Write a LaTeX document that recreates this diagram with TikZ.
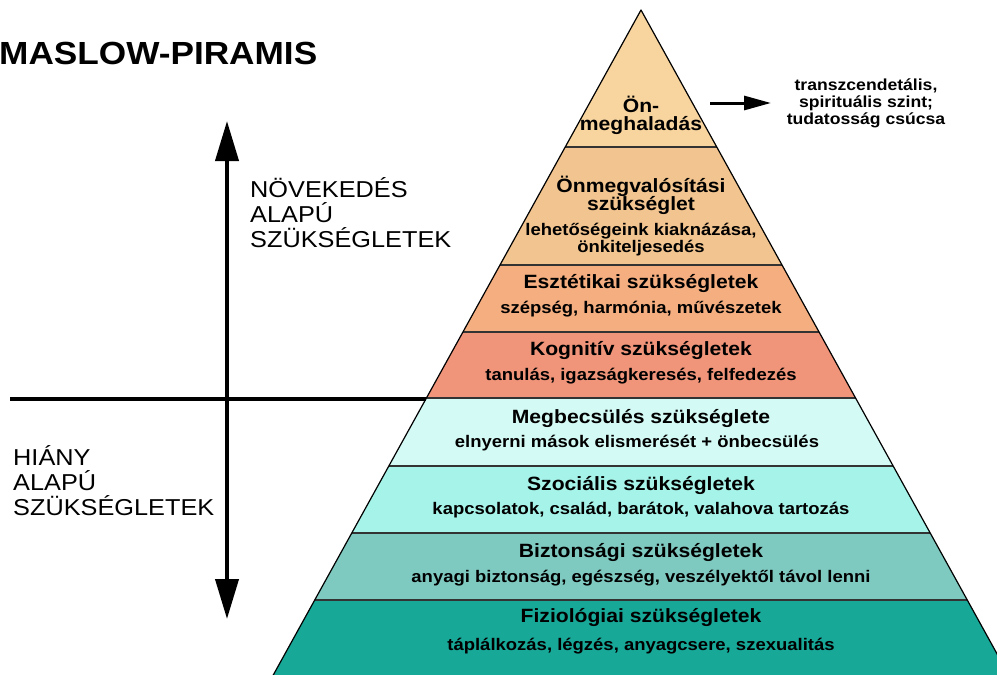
\documentclass[tikz,border=0pt]{standalone}
\usepackage{fontspec}
\setmainfont{Liberation Sans}[FakeStretch=1.1]
\usetikzlibrary{arrows.meta}
\definecolor{cA}{HTML}{F8D49E}
\definecolor{cB}{HTML}{F2C48F}
\definecolor{cC}{HTML}{F4AE80}
\definecolor{cD}{HTML}{F0947A}
\definecolor{cE}{HTML}{D4FAF5}
\definecolor{cF}{HTML}{A6F4E9}
\definecolor{cG}{HTML}{7ECAC1}
\definecolor{cH}{HTML}{17A898}
\newcommand{\hw}[1]{0.553*(#1-10)}
\tikzset{
  ttl/.style={anchor=base,font=\bfseries\fontsize{19.2}{21}\selectfont},
  sub/.style={anchor=base,font=\bfseries\fontsize{16.8}{18}\selectfont},
  side/.style={anchor=base west,font=\fontsize{23}{25}\selectfont},
  note/.style={anchor=base,font=\bfseries\fontsize{16}{17}\selectfont},
}
\begin{document}
\begin{tikzpicture}[x=1pt,y=-1pt,line join=round,inner sep=0pt]
\useasboundingbox (0,0) rectangle (997,675);
% bands
\foreach \ya/\yb/\col in {10/147/cA,147/265/cB,265/332/cC,332/398/cD,398/466/cE,466/533/cF,533/600/cG,600/690/cH}{
  \fill[\col] ({641-\hw{\ya}},\ya) -- ({641+\hw{\ya}},\ya) -- ({641+\hw{\yb}},\yb) -- ({641-\hw{\yb}},\yb) -- cycle;
}
\foreach \y in {147,265,332,398,466,533,600}
  \draw[line width=1.5pt,black!80] ({641-\hw{\y}},\y) -- ({641+\hw{\y}},\y);
\coordinate (apex) at (641,10);
\coordinate (bl) at ({641-\hw{690}},690);
\coordinate (br) at ({641+\hw{690}},690);
\draw[line width=1.2pt] (bl) -- (apex) -- (br);
% title
\node[anchor=base west,font=\bfseries\fontsize{32}{34}\selectfont] (title) at (-1,64) {MASLOW-PIRAMIS};
% axes
\coordinate (hl) at (10,399);
\coordinate (hr) at ({641-\hw{398}},399);
\coordinate (vtop) at (227,121);
\coordinate (vbot) at (227,619);
\draw[line width=4pt] (hl) -- (hr);
\draw[line width=4pt,{Triangle[length=40pt,width=23pt]}-{Triangle[length=40pt,width=23pt]}] (vtop) -- (vbot);
\node[side] (n1) at (250,197) {NÖVEKEDÉS};
\node[side] (n2) at (250,222) {ALAPÚ};
\node[side] (n3) at (250,247) {SZÜKSÉGLETEK};
\node[side] (h1) at (13,465) {HIÁNY};
\node[side] (h2) at (13,490) {ALAPÚ};
\node[side] (h3) at (13,515) {SZÜKSÉGLETEK};
% top note
\node[note] (tr1) at (866,90) {transzcendetális,};
\node[note] (tr2) at (866,107) {spirituális szint;};
\node[note] (tr3) at (866,124) {tudatosság csúcsa};
\coordinate (arrS) at (710,103);
\coordinate (arrE) at (771,103);
\draw[line width=3pt,-{Triangle[length=27pt,width=14pt]}] (arrS) -- (arrE);
% texts
\node[ttl] (t0a) at (641,112) {Ön-};
\node[ttl] (t0b) at (641,130) {meghaladás};
\node[ttl] (t1a) at (641,192) {Önmegvalósítási};
\node[ttl] (t1b) at (641,210) {szükséglet};
\node[sub] (s1a) at (641,235) {lehetőségeink kiaknázása,};
\node[sub] (s1b) at (641,252) {önkiteljesedés};
\node[ttl] (t2) at (641,288) {Esztétikai szükségletek};
\node[sub] (s2) at (641,313) {szépség, harmónia, művészetek};
\node[ttl] (t3) at (641,355) {Kognitív szükségletek};
\node[sub] (s3) at (641,380) {tanulás, igazságkeresés, felfedezés};
\node[ttl] (t4) at (641,423) {Megbecsülés szükséglete};
\node[sub] (s4) at (637,447) {elnyerni mások elismerését + önbecsülés};
\node[ttl] (t5) at (641,490) {Szociális szükségletek};
\node[sub] (s5) at (641,514) {kapcsolatok, család, barátok, valahova tartozás};
\node[ttl] (t6) at (641,557) {Biztonsági szükségletek};
\node[sub] (s6) at (641,582) {anyagi biztonság, egészség, veszélyektől távol lenni};
\node[ttl] (t7) at (641,622) {Fiziológiai szükségletek};
\node[sub] (s7) at (641,650) {táplálkozás, légzés, anyagcsere, szexualitás};
\end{tikzpicture}
\end{document}
